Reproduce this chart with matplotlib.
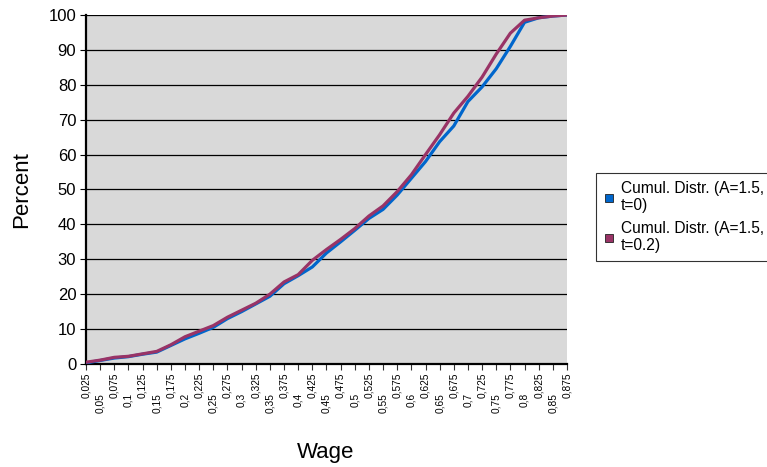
import matplotlib
matplotlib.use("Agg")
import matplotlib.pyplot as plt
from matplotlib.lines import Line2D

plt.rcParams['font.family'] = ['Liberation Sans', 'DejaVu Sans']

# wage categories 0.025 .. 0.875
wages = [0.025, 0.05, 0.075, 0.1, 0.125, 0.15, 0.175, 0.2, 0.225, 0.25,
         0.275, 0.3, 0.325, 0.35, 0.375, 0.4, 0.425, 0.45, 0.475, 0.5,
         0.525, 0.55, 0.575, 0.6, 0.625, 0.65, 0.675, 0.7, 0.725, 0.75,
         0.775, 0.8, 0.825, 0.85, 0.875]

cumul_t0 = [0.3, 1.0, 1.7, 2.1, 2.8, 3.4, 5.3, 7.2, 8.8, 10.5,
            13.0, 15.0, 17.2, 19.4, 23.0, 25.3, 27.8, 31.8, 35.0, 38.3,
            41.7, 44.3, 48.4, 53.2, 58.0, 63.7, 68.2, 75.2, 79.4, 84.6,
            91.0, 97.9, 99.2, 99.7, 100.0]

cumul_t02 = [0.5, 1.1, 1.9, 2.2, 2.9, 3.6, 5.5, 7.8, 9.4, 11.0,
             13.4, 15.4, 17.4, 20.0, 23.5, 25.6, 29.7, 32.8, 35.7, 38.8,
             42.4, 45.3, 49.4, 54.2, 60.0, 65.7, 71.9, 76.7, 82.2, 88.8,
             94.8, 98.5, 99.2, 99.7, 100.0]

labels = [f"{w:g}".replace('.', ',') for w in wages]
series_names = ["Cumul. Distr. (A=1.5,\nt=0)", "Cumul. Distr. (A=1.5,\nt=0.2)"]
blue = '#0066CC'
purple = '#993366'

fig = plt.figure(figsize=(7.67, 4.67), dpi=100)
ax = fig.add_axes([0.1121, 0.2206, 0.6271, 0.7473])
ax.set_facecolor('#D9D9D9')

x = list(range(len(wages)))
ax.plot(x, cumul_t0, color=blue, lw=2.3, solid_joinstyle='round', zorder=3)
ax.plot(x, cumul_t02, color=purple, lw=2.3, solid_joinstyle='round', zorder=4)

ax.set_xlim(0, len(wages) - 1)
ax.set_ylim(0, 100)
ax.set_yticks(range(0, 101, 10))
ax.yaxis.grid(True, color='black', lw=0.9)
ax.set_axisbelow(True)

for s in ['top', 'right']:
    ax.spines[s].set_visible(False)
ax.spines['left'].set_linewidth(1.6)
ax.spines['bottom'].set_linewidth(1.6)

# staggered category labels: even ones close, odd ones lower
ax.set_xticks(x[0::2])
ax.set_xticklabels(labels[0::2], rotation=90, fontsize=7.3)
ax.set_xticks(x[1::2], minor=True)
ax.set_xticklabels(labels[1::2], minor=True, rotation=90, fontsize=7.3)
ax.tick_params(axis='x', which='major', length=4, width=0.8, color='#333333', pad=2)
ax.tick_params(axis='x', which='minor', length=4, width=0.8, color='#333333', pad=17)
ax.tick_params(axis='y', length=4, width=0.8, labelsize=12, pad=3)

ax.set_ylabel("Percent", fontsize=16, labelpad=12)
fig.text(0.424, 0.032, "Wage", fontsize=16, ha='center', va='center')

handles = [Line2D([], [], ls='none', marker='s', markersize=6, markerfacecolor=blue,
                  markeredgecolor='#222222', markeredgewidth=0.6),
           Line2D([], [], ls='none', marker='s', markersize=6, markerfacecolor=purple,
                  markeredgecolor='#222222', markeredgewidth=0.6)]
leg = fig.legend(handles, series_names, loc='upper left',
                 bbox_to_anchor=(596 / 767, 1 - 173 / 467), fontsize=11.2,
                 frameon=True, fancybox=False, edgecolor='black',
                 handlelength=0.7, handletextpad=0.4, borderpad=0.5,
                 labelspacing=0.5, borderaxespad=0)
leg.get_frame().set_linewidth(0.8)

fig.savefig("out.png", dpi=100)
